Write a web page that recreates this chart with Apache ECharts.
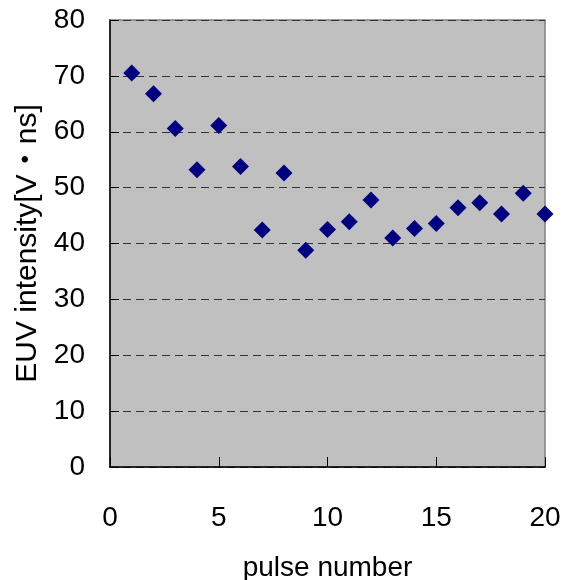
<!DOCTYPE html>
<html>
<head>
<meta charset="utf-8">
<script src="https://cdn.jsdelivr.net/npm/echarts@6/dist/echarts.min.js"></script>
<style>
html,body{margin:0;padding:0;background:#fff;}
#chart{width:563px;height:580px;}
</style>
</head>
<body>
<div id="chart"></div>
<script>
const pulseNumbers = [1,2,3,4,5,6,7,8,9,10,11,12,13,14,15,16,17,18,19,20];
const euvIntensity = [70.5,66.8,60.6,53.2,61.1,53.8,42.4,52.6,38.8,42.5,43.9,47.8,41.0,42.7,43.6,46.4,47.3,45.3,49.0,45.3];
const xTicks = [0,5,10,15,20];
const yTicks = [0,10,20,30,40,50,60,70,80];

const FONT = '"Liberation Sans", "Noto Sans CJK JP", sans-serif';
const chart = echarts.init(document.getElementById('chart'), null, {renderer:'canvas'});
chart.setOption({
  animation:false,
  backgroundColor:'#ffffff',
  grid:{left:110, right:18, top:20, bottom:113, show:true, backgroundColor:'#C0C0C0', borderColor:'#808080', borderWidth:1.5, containLabel:false, outerBoundsMode:'none'},
  xAxis:{
    type:'value', min:xTicks[0], max:xTicks[xTicks.length-1], interval:5,
    name:'pulse number', nameLocation:'middle', nameGap:87,
    nameTextStyle:{fontFamily:FONT, fontSize:28, color:'#000'},
    axisLine:{show:true, onZero:false, lineStyle:{color:'#000', width:1.5}},
    axisTick:{show:true, inside:true, length:10, lineStyle:{color:'#000'}},
    axisLabel:{margin:37, fontFamily:FONT, fontSize:28, color:'#000'},
    splitLine:{show:false}
  },
  yAxis:{
    type:'value', min:yTicks[0], max:yTicks[yTicks.length-1], interval:10,
    name:'EUV intensity[V・ns]', nameLocation:'middle', nameGap:64,
    nameTextStyle:{fontFamily:FONT, fontSize:30, color:'#000'},
    axisLine:{show:true, onZero:false, lineStyle:{color:'#000', width:1.5}},
    axisTick:{show:true, inside:true, length:9, lineStyle:{color:'#000'}},
    axisLabel:{margin:25, fontFamily:FONT, fontSize:28, color:'#000'},
    splitLine:{show:true, lineStyle:{color:'#333', type:[8,5], width:1}}
  },
  series:[{
    type:'scatter',
    data:pulseNumbers.map((p,i)=>[p, euvIntensity[i]]),
    symbol:'diamond', symbolSize:[17,17],
    itemStyle:{color:'#000080', opacity:1},
    clip:false
  }]
});
</script>
</body>
</html>
